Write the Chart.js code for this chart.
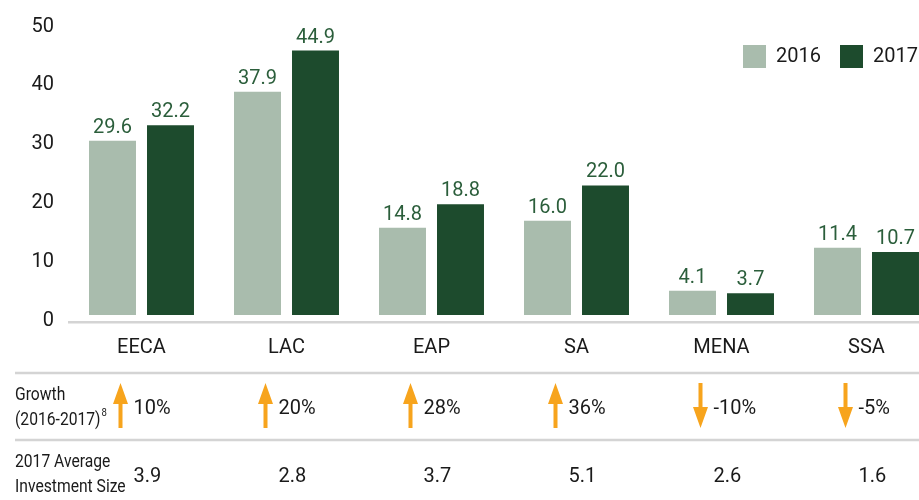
<!DOCTYPE html>
<html>
<head>
<meta charset="utf-8">
<script src="https://cdn.jsdelivr.net/npm/chart.js@4"></script>
<style>
  html, body { margin: 0; padding: 0; background: #fff; overflow: hidden; }
  #wrap { width: 940px; height: 500px; }
</style>
</head>
<body>
<div id="wrap"><canvas id="myChart" width="940" height="500"></canvas></div>
<script>
var categories = ["EECA", "LAC", "EAP", "SA", "MENA", "SSA"];
var values2016 = [29.6, 37.9, 14.8, 16.0, 4.1, 11.4];
var values2017 = [32.2, 44.9, 18.8, 22.0, 3.7, 10.7];
var growth = [10, 20, 28, 36, -10, -5];
var avgSize = [3.9, 2.8, 3.7, 5.1, 2.6, 1.6];
var yTicks = [0, 10, 20, 30, 40, 50];
var seriesNames = ["2016", "2017"];

var FONT = "Roboto, 'Noto Sans', sans-serif";
var LIGHT = "#a9bcad";
var DARK = "#1d4b2d";
var ORANGE = "#f7a41d";
var LINE = "#d4d4d4";
var TEXT = "#1a1a1a";

// value labels above bars
var valueLabels = {
    id: "valueLabels",
    afterDatasetsDraw: function (chart) {
        var ctx = chart.ctx;
        ctx.save();
        ctx.font = "20px " + FONT;
        ctx.fillStyle = "#2b5e3b";
        ctx.textAlign = "center";
        ctx.textBaseline = "alphabetic";
        chart.data.datasets.forEach(function (ds, i) {
            chart.getDatasetMeta(i).data.forEach(function (bar, j) {
                ctx.fillText(ds.data[j].toFixed(1), bar.x, bar.y - 8);
            });
        });
        ctx.restore();
    }
};

// narrow text for the row headings
function narrowText(ctx, txt, x, y, sx) {
    ctx.save();
    ctx.translate(x, y);
    ctx.scale(sx, 1);
    ctx.fillText(txt, 0, 0);
    ctx.restore();
    return ctx.measureText(txt).width * sx;
}

// legend + table underneath the chart
var extras = {
    id: "extras",
    afterDraw: function (chart) {
        var ctx = chart.ctx;
        var xs = chart.scales.x;
        ctx.save();

        // legend
        ctx.font = "20px " + FONT;
        ctx.textBaseline = "middle";
        ctx.textAlign = "left";
        var lx = [743, 840];
        chart.data.datasets.forEach(function (ds, i) {
            ctx.fillStyle = ds.backgroundColor;
            ctx.fillRect(lx[i], 45, 23, 23);
            ctx.fillStyle = TEXT;
            ctx.fillText(ds.label, lx[i] + 33, 57);
        });

        // table lines
        ctx.strokeStyle = LINE;
        ctx.lineWidth = 2.5;
        [373, 440].forEach(function (y) {
            ctx.beginPath();
            ctx.moveTo(15, y);
            ctx.lineTo(chart.width, y);
            ctx.stroke();
        });

        // row labels
        ctx.fillStyle = TEXT;
        ctx.font = "18px " + FONT;
        var sx = 0.87;
        narrowText(ctx, "Growth", 15, 395, sx);
        var w = narrowText(ctx, "(2016-2017)", 15, 420, sx);
        ctx.font = "11px " + FONT;
        narrowText(ctx, "8", 15 + w + 1, 413, sx);
        ctx.font = "18px " + FONT;
        narrowText(ctx, "2017 Average", 15, 462, sx);
        narrowText(ctx, "Investment Size", 15, 487, sx);

        categories.forEach(function (c, i) {
            var cx = xs.getPixelForValue(i);
            var ax = cx - 21;
            var top = 383, bot = 428;
            ctx.fillStyle = ORANGE;
            ctx.beginPath();
            if (growth[i] >= 0) {
                ctx.moveTo(ax, top);
                ctx.lineTo(ax + 7.5, top + 21);
                ctx.lineTo(ax + 2, top + 21);
                ctx.lineTo(ax + 2, bot);
                ctx.lineTo(ax - 2, bot);
                ctx.lineTo(ax - 2, top + 21);
                ctx.lineTo(ax - 7.5, top + 21);
            } else {
                ctx.moveTo(ax, bot);
                ctx.lineTo(ax + 7.5, bot - 21);
                ctx.lineTo(ax + 2, bot - 21);
                ctx.lineTo(ax + 2, top);
                ctx.lineTo(ax - 2, top);
                ctx.lineTo(ax - 2, bot - 21);
                ctx.lineTo(ax - 7.5, bot - 21);
            }
            ctx.closePath();
            ctx.fill();

            ctx.fillStyle = TEXT;
            ctx.font = "20px " + FONT;
            ctx.fillText(growth[i] + "%", cx - 8, 409);
            ctx.fillText(avgSize[i].toFixed(1), cx - 8, 477);
        });
        ctx.restore();
    }
};

new Chart(document.getElementById("myChart").getContext("2d"), {
    type: "bar",
    data: {
        labels: categories,
        datasets: [
            { label: seriesNames[0], data: values2016, backgroundColor: LIGHT },
            { label: seriesNames[1], data: values2017, backgroundColor: DARK }
        ]
    },
    options: {
        responsive: false,
        animation: false,
        layout: { padding: { top: 20.5, right: 1, left: 0, bottom: 0 } },
        categoryPercentage: 0.8,
        barPercentage: 0.81,
        plugins: {
            legend: { display: false },
            tooltip: { enabled: false }
        },
        scales: {
            x: {
                grid: { display: false, drawTicks: false },
                border: { display: true, color: LINE, width: 2.5 },
                ticks: { color: TEXT, font: { family: FONT, size: 20 }, padding: 14 },
                afterFit: function (s) { s.height = 178; }
            },
            y: {
                min: -1.2,
                max: 50,
                afterBuildTicks: function (s) {
                    s.ticks = yTicks.map(function (v) { return { value: v }; });
                },
                grid: { display: false, drawTicks: false },
                border: { display: false },
                ticks: { color: TEXT, font: { family: FONT, size: 20 }, padding: 15, labelOffset: 6 },
                afterFit: function (s) {
                    s.width = 69;
                    s.paddingTop = 0;
                    s.paddingBottom = 0;
                }
            }
        }
    },
    plugins: [valueLabels, extras]
});
</script>
</body>
</html>
